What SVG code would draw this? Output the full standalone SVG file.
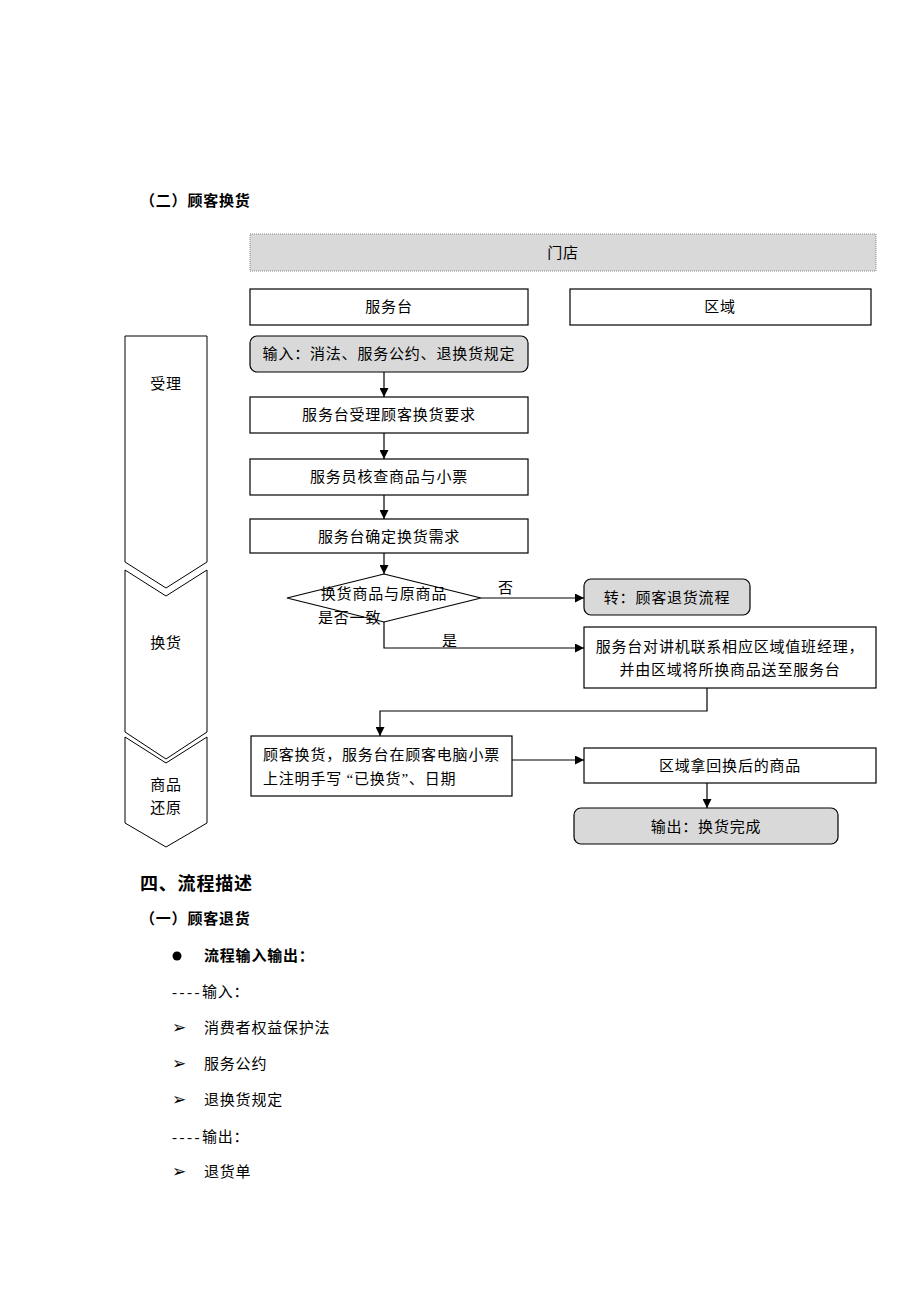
<svg xmlns="http://www.w3.org/2000/svg" width="920" height="1302" viewBox="0 0 920 1302">
<defs>
<marker id="arr" viewBox="0 0 10 10" refX="10" refY="5" markerWidth="10" markerHeight="9" markerUnits="userSpaceOnUse" orient="auto">
<path d="M0,0 L10,5 L0,10 z" fill="#000"/>
</marker>
</defs>
<style>
text{font-family:"Liberation Serif","Noto Sans CJK SC",serif;font-size:15px;fill:#000;letter-spacing:0.8px}
.c{text-anchor:middle}
.b{font-weight:bold}
.box{fill:#fff;stroke:#000;stroke-width:1.2}
.gray{fill:#d9d9d9;stroke:#000;stroke-width:1.2}
.hdr{fill:#d9d9d9;stroke:#888;stroke-width:1;stroke-dasharray:1 1}
.chev{fill:#fff;stroke:#000;stroke-width:1}
.ln{fill:none;stroke:#000;stroke-width:1.2}
.dash{letter-spacing:2.5px}
.tri{font-size:17px}
</style>
<rect width="920" height="1302" fill="#fff"/>

<text x="140" y="206" class="b">（二）顾客换货</text>

<g id="lane-header"><rect class="hdr" x="250" y="234" width="626" height="37"/><text x="563" y="258" class="c">门店</text></g>
<g id="lane-desk"><rect class="box" x="250" y="289" width="278" height="36"/><text x="389" y="312" class="c">服务台</text></g>
<g id="lane-area"><rect class="box" x="570" y="289" width="301" height="36"/><text x="720" y="312" class="c">区域</text></g>

<g id="phase1"><path class="chev" d="M125,336 L207,336 L207,562 L166,588 L125,562 Z"/><text x="166" y="389" class="c">受理</text></g>
<g id="phase2"><path class="chev" d="M125,570 L166,596 L207,570 L207,732 L166,759 L125,732 Z"/><text x="166" y="648" class="c">换货</text></g>
<g id="phase3"><path class="chev" d="M125,737 L166,763 L207,737 L207,823 L166,847 L125,823 Z"/><text x="166" y="790" class="c">商品</text><text x="166" y="813" class="c">还原</text></g>

<g id="n-input"><rect class="gray" x="250" y="336" width="278" height="36" rx="7"/><text x="389" y="359" class="c">输入：消法、服务公约、退换货规定</text></g>
<g id="n-accept"><rect class="box" x="250" y="397" width="278" height="36"/><text x="389" y="420" class="c">服务台受理顾客换货要求</text></g>
<g id="n-check"><rect class="box" x="250" y="459" width="278" height="36"/><text x="389" y="482" class="c">服务员核查商品与小票</text></g>
<g id="n-confirm"><rect class="box" x="250" y="519" width="278" height="34"/><text x="389" y="542" class="c">服务台确定换货需求</text></g>
<g id="n-decision"><path class="box" d="M384,574 L481,598 L384,622 L287,598 Z"/><text x="384" y="599" class="c">换货商品与原商品</text><text x="318" y="623">是否一致</text></g>
<g id="n-return"><rect class="gray" x="584" y="579" width="166" height="36" rx="7"/><text x="667" y="603" class="c">转：顾客退货流程</text></g>
<g id="n-contact"><rect class="box" x="584" y="627" width="292" height="61"/><text x="730" y="652" class="c">服务台对讲机联系相应区域值班经理，</text><text x="730" y="675" class="c">并由区域将所换商品送至服务台</text></g>
<g id="n-exchange"><rect class="box" x="251" y="736" width="261" height="60"/><text x="263" y="760">顾客换货，服务台在顾客电脑小票</text><text x="263" y="784">上注明手写 “已换货”、日期</text></g>
<g id="n-takeback"><rect class="box" x="584" y="748" width="292" height="35"/><text x="730" y="771" class="c">区域拿回换后的商品</text></g>
<g id="n-output"><rect class="gray" x="574" y="808" width="264" height="36" rx="7"/><text x="706" y="832" class="c">输出：换货完成</text></g>

<g id="connectors">
<path class="ln" d="M384,372 L384,397" marker-end="url(#arr)"/>
<path class="ln" d="M384,433 L384,459" marker-end="url(#arr)"/>
<path class="ln" d="M384,495 L384,519" marker-end="url(#arr)"/>
<path class="ln" d="M384,553 L384,574" marker-end="url(#arr)"/>
<path class="ln" d="M481,598 L584,598" marker-end="url(#arr)"/>
<path class="ln" d="M384,622 L384,648 L584,648" marker-end="url(#arr)"/>
<path class="ln" d="M707,688 L707,711 L380,711 L380,736" marker-end="url(#arr)"/>
<path class="ln" d="M512,760 L584,760" marker-end="url(#arr)"/>
<path class="ln" d="M707,783 L707,808" marker-end="url(#arr)"/>
<text x="506" y="593" class="c">否</text>
<text x="450" y="646" class="c">是</text>
</g>

<text x="140" y="890" class="b" style="font-size:18px">四、流程描述</text>
<text x="140" y="924" class="b">（一）顾客退货</text>
<circle cx="177" cy="956" r="4.5" fill="#000"/>
<text x="204" y="961" class="b">流程输入输出：</text>
<text x="172" y="997"><tspan class="dash">----</tspan>输入：</text>
<text x="172" y="1033" class="tri">➢</text><text x="204" y="1033">消费者权益保护法</text>
<text x="172" y="1069" class="tri">➢</text><text x="204" y="1069">服务公约</text>
<text x="172" y="1105" class="tri">➢</text><text x="204" y="1105">退换货规定</text>
<text x="172" y="1142"><tspan class="dash">----</tspan>输出：</text>
<text x="172" y="1177" class="tri">➢</text><text x="204" y="1177">退货单</text>
</svg>
